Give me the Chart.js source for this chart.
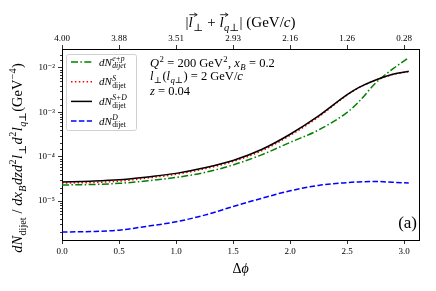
<!DOCTYPE html>
<html>
<head>
<meta charset="utf-8">
<script src="https://cdn.jsdelivr.net/npm/chart.js@4.4.0/dist/chart.umd.min.js"></script>
<style>
    html, body { margin: 0; padding: 0; background: #fff; }
</style>
</head>
<body>
<canvas id="chart" width="436" height="291"></canvas>
<script>
// values
const deltaPhi = [0, 0.25, 0.5, 0.75, 1.0, 1.25, 1.5, 1.75, 2.0, 2.25, 2.5, 2.6, 2.75, 2.9, 3.04];
const epValues = [2.3e-5, 2.35e-5, 2.5e-5, 2.85e-5, 3.4e-5, 4.4e-5, 6.5e-5, 1.1e-4, 2.1e-4, 4.0e-4, 1.0e-3, 1.7e-3, 4.6e-3, 9.5e-3, 1.7e-2];
const sValues = [2.55e-5, 2.6e-5, 2.8e-5, 3.3e-5, 4.0e-5, 5.3e-5, 7.8e-5, 1.35e-4, 3.0e-4, 7.9e-4, 2.45e-3, 3.55e-3, 5.3e-3, 7.1e-3, 8.3e-3];
const sdValues = [2.7e-5, 2.8e-5, 3.0e-5, 3.5e-5, 4.2e-5, 5.6e-5, 8.2e-5, 1.45e-4, 3.2e-4, 8.3e-4, 2.5e-3, 3.6e-3, 5.35e-3, 7.2e-3, 8.4e-3];
const dValues = [2.0e-6, 2.05e-6, 2.2e-6, 2.7e-6, 3.4e-6, 4.8e-6, 7.5e-6, 1.15e-5, 1.7e-5, 2.25e-5, 2.6e-5, 2.7e-5, 2.75e-5, 2.65e-5, 2.55e-5];

const bottomTicks = [0, 0.5, 1.0, 1.5, 2.0, 2.5, 3.0];
const topTickLabels = ['4.00', '3.88', '3.51', '2.93', '2.16', '1.26', '0.28'];

const SERIF = '"Liberation Serif", "DejaVu Serif", serif';

function font(size, italic) {
    return (italic ? 'italic ' : '') + size + 'px ' + SERIF;
}

function isPow10(v) {
    const l = Math.log10(v);
    return Math.abs(l - Math.round(l)) < 1e-9;
}

function toPoints(values) {
    return deltaPhi.map((x, i) => ({x: x, y: values[i]}));
}

// rich text: pieces {t, i, sub, subI, sup, supI, vec}
function pieceWidth(ctx, p, size) {
    ctx.font = font(size, p.i);
    const w = ctx.measureText(p.t).width;
    let sw = 0;
    if (p.sub) {
        ctx.font = font(size * 0.7, p.subI);
        sw = Math.max(sw, ctx.measureText(p.sub).width);
    }
    if (p.sup) {
        ctx.font = font(size * 0.7, p.supI);
        sw = Math.max(sw, ctx.measureText(p.sup).width);
    }
    return w + sw + (sw ? size * 0.06 : 0);
}

function richWidth(ctx, parts, size) {
    let w = 0;
    parts.forEach(p => w += pieceWidth(ctx, p, size));
    return w;
}

function drawRich(ctx, parts, x, y, size, align) {
    let cx = x;
    if (align === 'center') cx = x - richWidth(ctx, parts, size) / 2;
    parts.forEach(p => {
        ctx.font = font(size, p.i);
        ctx.fillText(p.t, cx, y);
        const w = ctx.measureText(p.t).width;
        if (p.vec) {
            const ay = y - size * 0.82;
            const x0 = cx + size * 0.05, x1 = cx + w + size * 0.3;
            ctx.beginPath();
            ctx.lineWidth = 0.8;
            ctx.moveTo(x0, ay);
            ctx.lineTo(x1, ay);
            ctx.moveTo(x1 - size * 0.2, ay - size * 0.12);
            ctx.lineTo(x1, ay);
            ctx.lineTo(x1 - size * 0.2, ay + size * 0.12);
            ctx.stroke();
        }
        cx += w;
        let sw = 0;
        if (p.sub) {
            ctx.font = font(size * 0.7, p.subI);
            ctx.fillText(p.sub, cx + size * 0.03, y + size * 0.25);
            sw = Math.max(sw, ctx.measureText(p.sub).width);
        }
        if (p.sup) {
            ctx.font = font(size * 0.7, p.supI);
            ctx.fillText(p.sup, cx + size * 0.03, y - size * 0.42);
            sw = Math.max(sw, ctx.measureText(p.sup).width);
        }
        cx += sw + (sw ? size * 0.06 : 0);
    });
}

const legendLabels = [
    [{t: 'dN', i: true, sup: 'e+p', supI: true, sub: 'dijet', subI: true}],
    [{t: 'dN', i: true, sup: 'S', supI: true, sub: 'dijet'}],
    [{t: 'dN', i: true, sup: 'S+D', supI: true, sub: 'dijet'}],
    [{t: 'dN', i: true, sup: 'D', supI: true, sub: 'dijet'}]
];

const yTitle = [
    {t: 'dN', i: true, sub: 'dijet'}, {t: ' / '},
    {t: 'dx', i: true, sub: 'B', subI: true}, {t: 'dzd', i: true, sup: '2'},
    {t: 'l', i: true, sub: '⊥'}, {t: 'd', i: true, sup: '2'},
    {t: 'l', i: true, sub: 'q⊥', subI: true}, {t: '(GeV', sup: '−4'}, {t: ')'}
];

const topTitle = [
    {t: '|'}, {t: 'l', i: true, vec: true, sub: '⊥'}, {t: ' + '},
    {t: 'l', i: true, vec: true, sub: 'q⊥', subI: true}, {t: '| (GeV/'}, {t: 'c', i: true}, {t: ')'}
];

const noteLines = [
    [{t: 'Q', i: true, sup: '2'}, {t: ' = 200 GeV', sup: '2'}, {t: ', '}, {t: 'x', i: true, sub: 'B', subI: true}, {t: ' = 0.2'}],
    [{t: 'l', i: true, sub: '⊥'}, {t: '('}, {t: 'l', i: true, sub: 'q⊥', subI: true}, {t: ') = 2 GeV/'}, {t: 'c', i: true}],
    [{t: 'z', i: true}, {t: ' = 0.04'}]
];

const textPlugin = {
    id: 'texts',
    afterDraw(chart) {
        const ctx = chart.ctx;
        const area = chart.chartArea;
        ctx.save();
        ctx.fillStyle = '#000';
        ctx.strokeStyle = '#000';
        ctx.textBaseline = 'alphabetic';

        // minor ticks on the log axis
        const ys = chart.scales.y;
        ctx.lineWidth = 0.8;
        ys.ticks.forEach(t => {
            if (isPow10(t.value)) return;
            const py = Math.round(ys.getPixelForValue(t.value)) + 0.5;
            if (py <= area.top + 1 || py >= area.bottom - 1) return;
            ctx.beginPath();
            ctx.moveTo(area.left - 2, py);
            ctx.lineTo(area.left, py);
            ctx.stroke();
        });

        // legend
        const lx = 66.5, ly = 54.5, lw = 70, lh = 76;
        ctx.beginPath();
        ctx.roundRect(lx, ly, lw, lh, 2);
        ctx.fillStyle = 'rgba(255,255,255,0.85)';
        ctx.fill();
        ctx.strokeStyle = '#d0d0d0';
        ctx.lineWidth = 1;
        ctx.stroke();
        chart.data.datasets.forEach((ds, i) => {
            const ry = 62 + i * 19.7;
            ctx.beginPath();
            ctx.strokeStyle = ds.borderColor;
            ctx.lineWidth = ds.borderWidth;
            ctx.setLineDash(ds.borderDash || []);
            ctx.moveTo(71, ry);
            ctx.lineTo(92, ry);
            ctx.stroke();
            ctx.setLineDash([]);
            ctx.fillStyle = '#000';
            drawRich(ctx, legendLabels[i], 99, ry + 3.5, 11, 'left');
        });

        // notes
        ctx.fillStyle = '#000';
        ctx.strokeStyle = '#000';
        drawRich(ctx, noteLines[0], 150, 67, 12.5, 'left');
        drawRich(ctx, noteLines[1], 150, 80, 12.5, 'left');
        drawRich(ctx, noteLines[2], 150, 95, 12.5, 'left');

        // panel label
        ctx.font = font(17, false);
        ctx.textAlign = 'right';
        ctx.fillText('(a)', 417, 228);
        ctx.textAlign = 'left';

        // axis titles
        drawRich(ctx, [{t: 'Δ'}, {t: 'ϕ', i: true}], (area.left + area.right) / 2, 273, 14, 'center');
        drawRich(ctx, topTitle, (area.left + area.right) / 2, 27, 15, 'center');

        ctx.translate(22, 158);
        ctx.rotate(-Math.PI / 2);
        drawRich(ctx, yTitle, 0, 0, 14.5, 'center');
        ctx.restore();
    }
};

const tickFont = {family: SERIF, size: 9};

new Chart(document.getElementById('chart'), {
    type: 'line',
    data: {
        datasets: [
            {
                label: 'e+p',
                data: toPoints(epValues),
                borderColor: '#008000',
                borderWidth: 1.5,
                borderDash: [7, 2.4, 1.5, 2.4],
                order: 3
            },
            {
                label: 'S',
                data: toPoints(sValues),
                borderColor: '#ff0000',
                borderWidth: 1.5,
                borderDash: [1.5, 2.4],
                order: 2
            },
            {
                label: 'S+D',
                data: toPoints(sdValues),
                borderColor: '#000000',
                borderWidth: 1.5,
                order: 1
            },
            {
                label: 'D',
                data: toPoints(dValues),
                borderColor: '#0000ff',
                borderWidth: 1.5,
                borderDash: [5.5, 2.4],
                order: 0
            }
        ]
    },
    options: {
        responsive: false,
        animation: false,
        layout: {padding: 0},
        elements: {
            point: {radius: 0},
            line: {cubicInterpolationMode: 'monotone', fill: false}
        },
        plugins: {
            legend: {display: false},
            tooltip: {enabled: false}
        },
        scales: {
            x: {
                type: 'linear',
                position: 'bottom',
                min: 0,
                max: 3.13,
                afterBuildTicks: s => { s.ticks = bottomTicks.map(v => ({value: v})); },
                afterFit: s => { s.height = 51; },
                ticks: {
                    font: tickFont,
                    color: '#000',
                    padding: 2,
                    maxRotation: 0,
                    autoSkip: false,
                    callback: v => v.toFixed(1)
                },
                grid: {drawOnChartArea: false, tickLength: 4, tickColor: '#000', tickWidth: 0.8},
                border: {color: '#000', width: 1}
            },
            x2: {
                type: 'linear',
                position: 'top',
                min: 0,
                max: 3.13,
                afterBuildTicks: s => { s.ticks = bottomTicks.map(v => ({value: v})); },
                afterFit: s => { s.height = 49; },
                ticks: {
                    font: tickFont,
                    color: '#000',
                    padding: 1,
                    maxRotation: 0,
                    autoSkip: false,
                    callback: (v, i) => topTickLabels[i]
                },
                grid: {drawOnChartArea: false, tickLength: 4, tickColor: '#000', tickWidth: 0.8},
                border: {color: '#000', width: 1}
            },
            y: {
                type: 'logarithmic',
                position: 'left',
                min: 1.32e-6,
                max: 2.68e-2,
                afterFit: s => { s.width = 62; },
                ticks: {
                    font: tickFont,
                    color: '#000',
                    padding: 3,
                    autoSkip: false,
                    callback: v => {
                        if (!isPow10(v)) return '';
                        const e = Math.round(Math.log10(v));
                        const sup = {'-': '⁻', '0': '⁰', '1': '¹', '2': '²', '3': '³', '4': '⁴', '5': '⁵', '6': '⁶', '7': '⁷', '8': '⁸', '9': '⁹'};
                        return '10' + String(e).split('').map(c => sup[c]).join('');
                    }
                },
                grid: {
                    drawOnChartArea: false,
                    tickLength: 4,
                    tickWidth: 0.8,
                    tickColor: c => (c.tick && isPow10(c.tick.value)) ? '#000' : 'rgba(0,0,0,0)'
                },
                border: {color: '#000', width: 1}
            },
            y2: {
                type: 'logarithmic',
                position: 'right',
                min: 1.32e-6,
                max: 2.68e-2,
                afterFit: s => { s.width = 17; },
                ticks: {display: false},
                grid: {drawOnChartArea: false, drawTicks: false},
                border: {color: '#000', width: 1}
            }
        }
    },
    plugins: [textPlugin]
});
</script>
</body>
</html>
